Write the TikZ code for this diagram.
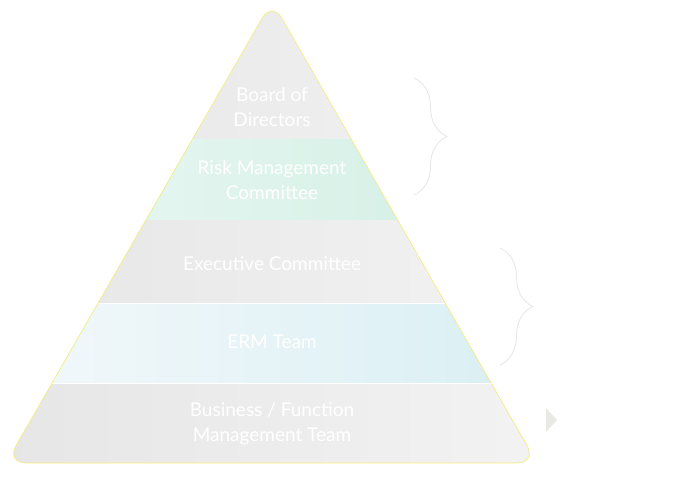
\documentclass[tikz,border=0pt]{standalone}
\usepackage{fontspec}
\setmainfont{Lato}
\usetikzlibrary{decorations.pathreplacing}
\definecolor{bandgrey}{HTML}{E6E6E6}
\definecolor{bandgreyr}{HTML}{F3F3F3}
\definecolor{mintl}{HTML}{EAF8F4}
\definecolor{mintr}{HTML}{D0EEE2}
\definecolor{bluel}{HTML}{F3F8FB}
\definecolor{bluer}{HTML}{D8EFF3}
\definecolor{edgeyellow}{HTML}{F2EE80}
\definecolor{bracegrey}{HTML}{E8E8E4}
\tikzset{
	x=1pt, y=-1pt,
	label text/.style={text=white, align=center, font=\fontsize{19}{25}\selectfont},
	level brace/.style={draw=bracegrey, line width=0.9pt,
		decorate, decoration={brace, amplitude=33pt, raise=0pt}}
}

\begin{document}
\begin{tikzpicture}
	\useasboundingbox (0,0) rectangle (695,497);
	\begin{scope}
		\clip[rounded corners=20pt] (272,1) -- (537,463) -- (6,463) -- cycle;
		% bands
		\shade[left color=bandgrey, right color=bandgreyr] (0,0) rectangle (560,140);
		\shade[left color=mintl, right color=mintr] (0,140) rectangle (560,220);
		\shade[left color=bandgrey, right color=bandgreyr] (0,220) rectangle (560,303);
		\shade[left color=bluel, right color=bluer] (0,303) rectangle (560,383);
		\shade[left color=bandgrey, right color=bandgreyr] (0,383) rectangle (560,470);
		\draw[white, line width=0.8pt] (0,303) -- (560,303) (0,383) -- (560,383);
	\end{scope}
	\draw[edgeyellow, line width=0.7pt, rounded corners=20pt]
		(272,1) -- (537,463) -- (6,463) -- cycle;

	\node[label text] (board) at (272,107) {Board of\\Directors};
	\node[label text] (rmc)   at (272,180) {Risk Management\\Committee};
	\node[label text] (exec)  at (272,264) {Executive Committee};
	\node[label text] (erm)   at (272,342) {ERM Team};
	\node[label text] (biz)   at (272,424) {Business / Function\\Management Team};

	\coordinate (b1top) at (414,78);
	\coordinate (b1bot) at (414,195);
	\coordinate (b2top) at (500,248);
	\coordinate (b2bot) at (500,365);
	\draw[level brace] (b1top) -- (b1bot);
	\draw[level brace] (b2top) -- (b2bot);

	\fill[bracegrey] (546,408) -- (557,420) -- (546,432) -- cycle;
\end{tikzpicture}
\end{document}
